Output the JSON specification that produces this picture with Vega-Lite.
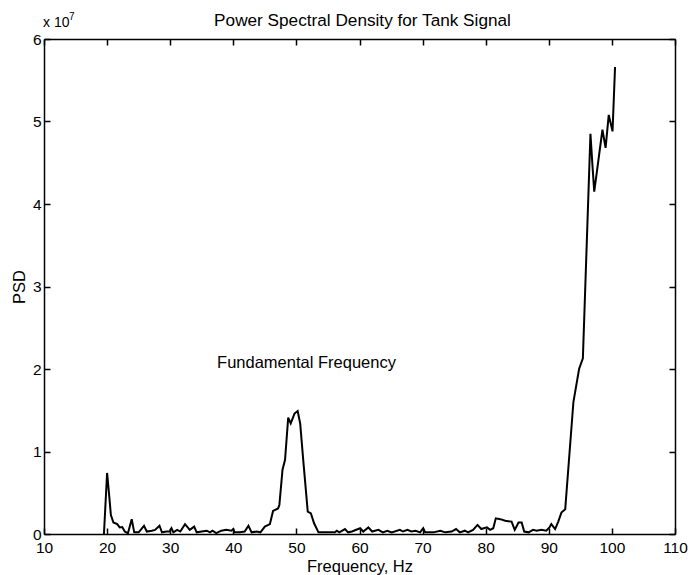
{
  "$schema": "https://vega.github.io/schema/vega-lite/v6.json",
  "width": 631,
  "height": 495,
  "autosize": {"type": "none"},
  "padding": {"left": 44, "top": 39, "right": 15, "bottom": 41},
  "background": "white",
  "config": {
    "view": {"stroke": null},
    "font": "Liberation Sans",
    "axis": {
      "grid": false,
      "domainColor": "black",
      "domainWidth": 1.5,
      "tickColor": "black",
      "tickWidth": 1.5,
      "tickSize": -6,
      "labelColor": "black",
      "labelFont": "Liberation Sans",
      "labelFontSize": 15.5,
      "labelFlush": false,
      "labelOverlap": false,
      "titleColor": "black",
      "titleFont": "Liberation Sans",
      "titleFontWeight": "normal",
      "titleFontSize": 16.5
    }
  },
  "title": {
    "text": "Power Spectral Density for Tank Signal",
    "font": "Liberation Sans",
    "fontSize": 17.2,
    "fontWeight": "normal",
    "color": "black",
    "baseline": "alphabetic",
    "offset": -31,
    "dx": 3
  },
  "datasets": {
    "psd": [
      {"f": 19.5, "psd": 0},
      {"f": 20.0, "psd": 7400000},
      {"f": 20.35, "psd": 4500000},
      {"f": 20.6, "psd": 2300000},
      {"f": 21.0, "psd": 1400000},
      {"f": 21.6, "psd": 1200000},
      {"f": 22.0, "psd": 800000},
      {"f": 22.4, "psd": 850000},
      {"f": 22.8, "psd": 300000},
      {"f": 23.3, "psd": 100000},
      {"f": 23.9, "psd": 1800000},
      {"f": 24.3, "psd": 200000},
      {"f": 25.0, "psd": 200000},
      {"f": 25.85, "psd": 1000000},
      {"f": 26.3, "psd": 300000},
      {"f": 27.1, "psd": 400000},
      {"f": 27.6, "psd": 500000},
      {"f": 28.3, "psd": 1000000},
      {"f": 28.7, "psd": 200000},
      {"f": 29.4, "psd": 300000},
      {"f": 29.9, "psd": 300000},
      {"f": 30.2, "psd": 700000},
      {"f": 30.5, "psd": 200000},
      {"f": 31.1, "psd": 500000},
      {"f": 31.6, "psd": 300000},
      {"f": 32.35, "psd": 1200000},
      {"f": 33.1, "psd": 500000},
      {"f": 33.8, "psd": 900000},
      {"f": 34.2, "psd": 200000},
      {"f": 35.0, "psd": 300000},
      {"f": 35.8, "psd": 400000},
      {"f": 36.3, "psd": 200000},
      {"f": 36.7, "psd": 400000},
      {"f": 37.3, "psd": 100000},
      {"f": 38.1, "psd": 400000},
      {"f": 38.9, "psd": 500000},
      {"f": 39.7, "psd": 400000},
      {"f": 40.0, "psd": 600000},
      {"f": 40.2, "psd": 200000},
      {"f": 41.0, "psd": 200000},
      {"f": 41.8, "psd": 300000},
      {"f": 42.4, "psd": 1000000},
      {"f": 42.9, "psd": 200000},
      {"f": 43.7, "psd": 300000},
      {"f": 44.3, "psd": 200000},
      {"f": 45.0, "psd": 900000},
      {"f": 45.8, "psd": 1200000},
      {"f": 46.3, "psd": 2800000},
      {"f": 47.1, "psd": 3100000},
      {"f": 47.3, "psd": 3500000},
      {"f": 47.8, "psd": 7800000},
      {"f": 48.2, "psd": 9000000},
      {"f": 48.7, "psd": 14100000},
      {"f": 49.1, "psd": 13400000},
      {"f": 49.7, "psd": 14600000},
      {"f": 50.2, "psd": 14900000},
      {"f": 50.6, "psd": 13400000},
      {"f": 51.1, "psd": 8800000},
      {"f": 51.8, "psd": 2700000},
      {"f": 52.3, "psd": 2500000},
      {"f": 52.8, "psd": 1300000},
      {"f": 53.5, "psd": 200000},
      {"f": 54.8, "psd": 200000},
      {"f": 56.1, "psd": 200000},
      {"f": 56.4, "psd": 400000},
      {"f": 56.8, "psd": 200000},
      {"f": 57.7, "psd": 600000},
      {"f": 58.2, "psd": 200000},
      {"f": 58.8, "psd": 300000},
      {"f": 60.1, "psd": 700000},
      {"f": 60.6, "psd": 300000},
      {"f": 61.4, "psd": 800000},
      {"f": 62.0, "psd": 300000},
      {"f": 63.0, "psd": 500000},
      {"f": 63.7, "psd": 200000},
      {"f": 64.4, "psd": 400000},
      {"f": 65.1, "psd": 200000},
      {"f": 66.4, "psd": 500000},
      {"f": 66.9, "psd": 300000},
      {"f": 67.6, "psd": 500000},
      {"f": 68.2, "psd": 300000},
      {"f": 68.9, "psd": 400000},
      {"f": 69.6, "psd": 200000},
      {"f": 70.1, "psd": 700000},
      {"f": 70.4, "psd": 200000},
      {"f": 71.7, "psd": 200000},
      {"f": 72.8, "psd": 400000},
      {"f": 73.6, "psd": 200000},
      {"f": 74.6, "psd": 300000},
      {"f": 75.3, "psd": 600000},
      {"f": 75.9, "psd": 200000},
      {"f": 76.7, "psd": 400000},
      {"f": 77.2, "psd": 200000},
      {"f": 78.0, "psd": 500000},
      {"f": 78.7, "psd": 1100000},
      {"f": 79.3, "psd": 600000},
      {"f": 79.7, "psd": 700000},
      {"f": 80.2, "psd": 800000},
      {"f": 80.7, "psd": 500000},
      {"f": 81.2, "psd": 700000},
      {"f": 81.6, "psd": 1900000},
      {"f": 82.3, "psd": 1800000},
      {"f": 83.1, "psd": 1600000},
      {"f": 84.1, "psd": 1500000},
      {"f": 84.6, "psd": 500000},
      {"f": 85.2, "psd": 1400000},
      {"f": 85.7, "psd": 1400000},
      {"f": 86.1, "psd": 300000},
      {"f": 86.8, "psd": 200000},
      {"f": 87.5, "psd": 500000},
      {"f": 88.1, "psd": 400000},
      {"f": 88.8, "psd": 500000},
      {"f": 89.6, "psd": 400000},
      {"f": 90.1, "psd": 800000},
      {"f": 90.4, "psd": 1200000},
      {"f": 91.0, "psd": 600000},
      {"f": 91.5, "psd": 1500000},
      {"f": 92.0, "psd": 2600000},
      {"f": 92.6, "psd": 3000000},
      {"f": 93.9, "psd": 16000000},
      {"f": 94.8, "psd": 20000000},
      {"f": 95.4, "psd": 21300000},
      {"f": 96.6, "psd": 48500000},
      {"f": 96.9, "psd": 44900000},
      {"f": 97.2, "psd": 41500000},
      {"f": 98.5, "psd": 49000000},
      {"f": 99.0, "psd": 46800000},
      {"f": 99.5, "psd": 50800000},
      {"f": 100.1, "psd": 48800000},
      {"f": 100.5, "psd": 56600000}
    ],
    "note": [{"f": 51.6, "psd": 20700000, "label": "Fundamental Frequency"}],
    "mult": [{"f": 10, "psd": 60000000, "label": "x 10"}],
    "expo": [{"f": 10, "psd": 60000000, "label": "7"}]
  },
  "layer": [
    {
      "data": {"name": "psd"},
      "mark": {"type": "line", "color": "black", "strokeWidth": 2, "interpolate": "linear"},
      "encoding": {
        "x": {
          "field": "f", "type": "quantitative",
          "scale": {"domain": [10, 110], "nice": false, "zero": false},
          "axis": {
            "orient": "bottom",
            "values": [10, 20, 30, 40, 50, 60, 70, 80, 90, 100, 110],
            "title": "Frequency, Hz",
            "labelPadding": 12,
            "titlePadding": 3
          }
        },
        "y": {
          "field": "psd", "type": "quantitative",
          "scale": {"domain": [0, 60000000], "nice": false},
          "axis": {
            "orient": "left",
            "values": [0, 10000000, 20000000, 30000000, 40000000, 50000000, 60000000],
            "labelExpr": "format(datum.value / 10000000, 'd')",
            "title": "PSD",
            "labelPadding": 9,
            "titlePadding": 5
          }
        }
      }
    },
    {
      "data": {"name": "note"},
      "mark": {"type": "text", "font": "Liberation Sans", "fontSize": 16.5, "color": "black", "align": "center", "baseline": "middle"},
      "encoding": {
        "x": {
          "field": "f", "type": "quantitative",
          "scale": {"domain": [10, 110], "nice": false, "zero": false},
          "axis": {"orient": "top", "values": [10, 20, 30, 40, 50, 60, 70, 80, 90, 100, 110], "labels": false, "title": null}
        },
        "y": {
          "field": "psd", "type": "quantitative",
          "scale": {"domain": [0, 60000000], "nice": false},
          "axis": {"orient": "right", "values": [0, 10000000, 20000000, 30000000, 40000000, 50000000, 60000000], "labels": false, "title": null}
        },
        "text": {"field": "label"}
      }
    },
    {
      "data": {"name": "mult"},
      "mark": {"type": "text", "font": "Liberation Sans", "fontSize": 14, "color": "black", "align": "left", "baseline": "alphabetic", "dx": -1, "dy": -12},
      "encoding": {
        "x": {"field": "f", "type": "quantitative", "scale": {"domain": [10, 110], "nice": false, "zero": false}, "axis": null},
        "y": {"field": "psd", "type": "quantitative", "scale": {"domain": [0, 60000000], "nice": false}, "axis": null},
        "text": {"field": "label"}
      }
    },
    {
      "data": {"name": "expo"},
      "mark": {"type": "text", "font": "Liberation Sans", "fontSize": 10, "color": "black", "align": "left", "baseline": "alphabetic", "dx": 25, "dy": -19},
      "encoding": {
        "x": {"field": "f", "type": "quantitative", "scale": {"domain": [10, 110], "nice": false, "zero": false}, "axis": null},
        "y": {"field": "psd", "type": "quantitative", "scale": {"domain": [0, 60000000], "nice": false}, "axis": null},
        "text": {"field": "label"}
      }
    }
  ],
  "resolve": {"axis": {"x": "independent", "y": "independent"}}
}
